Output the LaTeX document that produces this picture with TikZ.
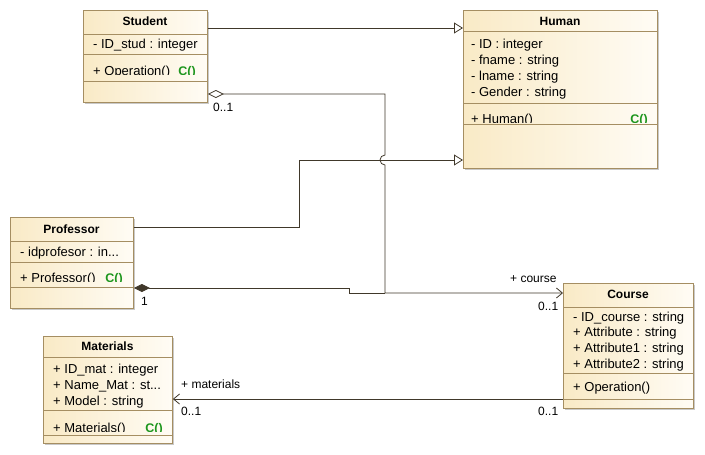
\documentclass[tikz,border=0pt]{standalone}
\usepackage{fontspec}
\setmainfont{Liberation Sans}
\usetikzlibrary{arrows.meta,shadows}
\definecolor{boxL}{RGB}{249,234,198}
\definecolor{boxR}{RGB}{255,252,245}
\definecolor{boxB}{RGB}{165,142,98}
\definecolor{lineC}{RGB}{64,56,42}
\definecolor{ctorG}{RGB}{30,150,30}
\tikzset{
 classbox/.style={draw=boxB, line width=0.9pt, left color=boxL, right color=boxR,
   drop shadow={shadow xshift=2pt, shadow yshift=-2pt, opacity=0.35, fill=black!60},
   inner sep=0pt, anchor=north west},
 sepline/.style={draw=boxB, line width=0.9pt},
 txt/.style={font=\fontsize{13}{15}\selectfont, inner sep=0pt, anchor=base west, text=black},
 ttl/.style={font=\fontsize{12}{14}\selectfont\bfseries, inner sep=0pt, anchor=base},
 ctor/.style={font=\fontsize{12.5}{14}\selectfont\bfseries, text=ctorG, inner sep=0pt, anchor=base east},
 conn/.style={draw=lineC, line width=0.8pt},
 lbl/.style={font=\fontsize{12}{14}\selectfont, inner sep=0pt, anchor=base west},
 gen/.style={conn, -{Triangle[open, length=9pt, width=11pt, fill=white]}},
 aggr/.style={conn, {Diamond[open, length=16pt, width=8pt, fill=white]}-{Straight Barb[length=6pt, width=10pt]}},
 compo/.style={conn, {Diamond[length=16pt, width=8pt, fill=lineC]}-},
 assoc/.style={conn, -{Straight Barb[length=6pt, width=10pt]}}
}
\begin{document}
\begin{tikzpicture}[x=1pt, y=-1pt]
\useasboundingbox (0,0) rectangle (705,455);
\fill[white] (0,0) rectangle (705,455);

% ---------- Student ----------
\node[classbox, minimum width=124pt, minimum height=92pt] (student) at (83,10) {};
\draw[sepline] (83,34) -- (207,34) (83,54) -- (207,54) (83,81) -- (207,81);
\node[ttl] (studentT) at (145,26) {Student};
\node[txt] (studentA1) at (93,48) {- ID\_stud : integer};
\begin{scope}
\clip (83,54) rectangle (207,74.5);
\node[txt] (studentO1) at (93,75) {+ Operation()};
\node[ctor] (studentC) at (196,75) {C()};
\end{scope}

% ---------- Human ----------
\node[classbox, minimum width=194pt, minimum height=158pt] (human) at (463,10) {};
\draw[sepline] (463,31) -- (657,31) (463,103) -- (657,103) (463,124) -- (657,124);
\node[ttl] (humanT) at (560,25) {Human};
\node[txt] (humanA1) at (471,48) {- ID : integer};
\node[txt] (humanA2) at (471,64) {- fname : string};
\node[txt] (humanA3) at (471,80) {- lname : string};
\node[txt] (humanA4) at (471,96) {- Gender : string};
\begin{scope}
\clip (463,103) rectangle (657,122);
\node[txt] (humanO1) at (471,123) {+ Human()};
\node[ctor] (humanC) at (648,123) {C()};
\end{scope}

% ---------- Professor ----------
\node[classbox, minimum width=123pt, minimum height=91pt] (professor) at (10,217) {};
\draw[sepline] (10,241) -- (133,241) (10,262) -- (133,262) (10,287) -- (133,287);
\node[ttl] (professorT) at (71.5,233) {Professor};
\node[txt] (professorA1) at (20,256) {- idprofesor : in...};
\begin{scope}
\clip (10,262) rectangle (133,281);
\node[txt] (professorO1) at (20,282) {+ Professor()};
\node[ctor] (professorC) at (123,282) {C()};
\end{scope}

% ---------- Course ----------
\node[classbox, minimum width=130pt, minimum height=125pt] (course) at (563,283) {};
\draw[sepline] (563,307) -- (693,307) (563,373) -- (693,373) (563,399) -- (693,399);
\node[ttl] (courseT) at (628,298) {Course};
\node[txt] (courseA1) at (573,321) {- ID\_course : string};
\node[txt] (courseA2) at (573,336.5) {+ Attribute : string};
\node[txt] (courseA3) at (573,352) {+ Attribute1 : string};
\node[txt] (courseA4) at (573,368) {+ Attribute2 : string};
\node[txt] (courseO1) at (573,391) {+ Operation()};

% ---------- Materials ----------
\node[classbox, minimum width=129pt, minimum height=107pt] (materials) at (43,336) {};
\draw[sepline] (43,357) -- (172,357) (43,410) -- (172,410) (43,435) -- (172,435);
\node[ttl] (materialsT) at (107.5,350.5) {Materials};
\node[txt] (materialsA1) at (53,373.5) {+ ID\_mat : integer};
\node[txt] (materialsA2) at (53,389.3) {+ Name\_Mat : st...};
\node[txt] (materialsA3) at (53,405) {+ Model : string};
\begin{scope}
\clip (43,410) rectangle (172,431);
\node[txt] (materialsO1) at (53,432) {+ Materials()};
\node[ctor] (materialsC) at (163,432) {C()};
\end{scope}

% ---------- Connectors ----------
\coordinate (joint) at (385,293);
\draw[gen] (student.east |- 0,28) -- (human.west |- 0,28);
\draw[gen] (professor.east |- 0,227) -- (299,227) -- (299,160) -- (human.west |- 0,160);
\draw[aggr] (student.east |- 0,94) -- (385,94) -- (385,155)
   arc[start angle=270, end angle=90, radius=5] -- (joint) -- (course.west |- joint);
\draw[compo] (professor.east |- 0,288) -- (349,288) -- (349,293) -- (joint);
\draw[assoc] (course.west |- 0,399) -- (materials.east |- 0,399);

% ---------- Labels ----------
\node[lbl] (l1) at (213,111) {0..1};
\node[lbl] (l2) at (141,305) {1};
\node[lbl] (l3) at (510,282.5) {+ course};
\node[lbl] (l4) at (538,310.5) {0..1};
\node[lbl] (l5) at (181,388) {+ materials};
\node[lbl] (l6) at (181,415.5) {0..1};
\node[lbl] (l7) at (538,415.5) {0..1};
\end{tikzpicture}
\end{document}
